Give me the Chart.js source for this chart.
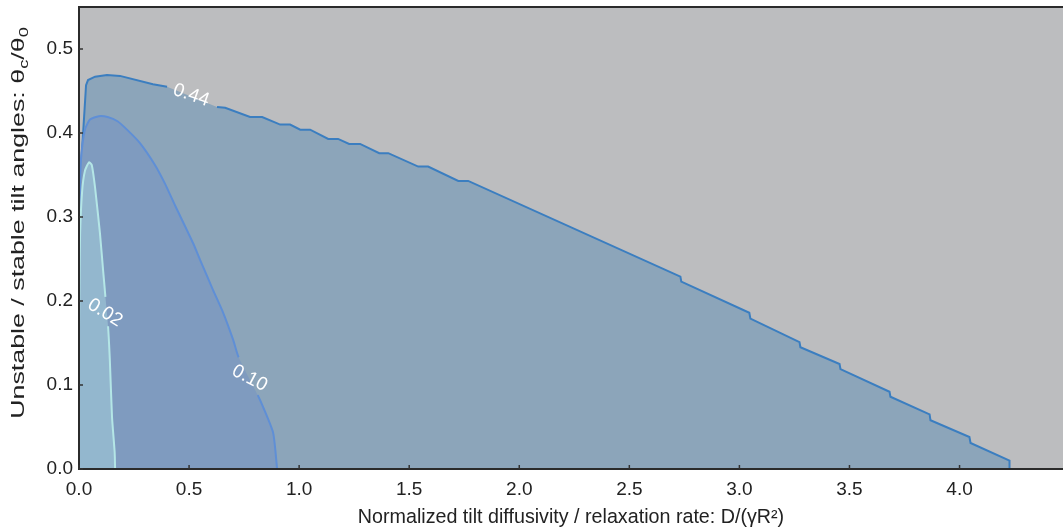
<!DOCTYPE html>
<html>
<head>
<meta charset="utf-8">
<script src="https://cdn.jsdelivr.net/npm/chart.js@4.4.1/dist/chart.umd.min.js"></script>
<style>
  html, body { margin: 0; padding: 0; background: #fff; }
  #wrap { width: 1063px; height: 529px; }
</style>
</head>
<body>
<div id="wrap"><canvas id="Grafico"></canvas></div>
<script>
// contour levels
const levels = ['0.44', '0.10', '0.02'];

// outer contour (level 0.44)
const outerX = [0, 0.014, 0.032, 0.041, 0.073, 0.127, 0.186, 0.336, 0.40, 0.627, 0.664, 0.777, 0.832, 0.914, 0.959,
  1.005, 1.05, 1.132, 1.177, 1.227, 1.277, 1.364, 1.405, 1.541, 1.586, 1.723, 1.768, 2.732, 2.736,
  3.045, 3.05, 3.273, 3.277, 3.455, 3.459, 3.682, 3.686, 3.864, 3.868, 4.045, 4.05, 4.227, 4.227];
const outerY = [0.336, 0.38, 0.457, 0.463, 0.467, 0.469, 0.468, 0.458, 0.455, 0.431, 0.430, 0.419, 0.419, 0.410, 0.410,
  0.404, 0.404, 0.393, 0.393, 0.387, 0.387, 0.376, 0.376, 0.360, 0.360, 0.343, 0.343, 0.229, 0.223,
  0.186, 0.179, 0.151, 0.145, 0.125, 0.119, 0.092, 0.086, 0.065, 0.058, 0.038, 0.031, 0.010, 0];

// middle contour (level 0.10)
const midX = [0, 0.009, 0.027, 0.05, 0.09, 0.13, 0.175, 0.218, 0.277, 0.345, 0.39, 0.436, 0.518, 0.55, 0.609,
  0.655, 0.70, 0.725, 0.812, 0.836, 0.882, 0.90];
const midY = [0.30, 0.368, 0.404, 0.416, 0.420, 0.419, 0.414, 0.404, 0.388, 0.362, 0.340, 0.314, 0.269, 0.249, 0.213,
  0.186, 0.154, 0.133, 0.088, 0.074, 0.043, 0];

// inner contour (level 0.02)
const innerX = [0, 0.002, 0.005, 0.014, 0.027, 0.045, 0.058, 0.073, 0.095, 0.11, 0.12, 0.132, 0.14, 0.15, 0.162, 0.164];
const innerY = [0.168, 0.22, 0.28, 0.33, 0.355, 0.365, 0.362, 0.335, 0.281, 0.235, 0.205, 0.17, 0.13, 0.062, 0.02, 0];

// label positions on each contour (x, y, angle) and the gap in the line under it
const labelX = [0.51, 0.775, 0.118];
const labelY = [0.445, 0.108, 0.186];
const labelAngle = [19, 28, 32];
const gapFrom = [0.40, 0.725, 0.12];
const gapTo = [0.627, 0.812, 0.132];

const xTicks = [0, 0.5, 1, 1.5, 2, 2.5, 3, 3.5, 4];
const yTicks = [0, 0.1, 0.2, 0.3, 0.4, 0.5];

function toPoints(xs, ys) {
  return xs.map((x, i) => ({ x: x, y: ys[i] }));
}

function gapSegment(k) {
  return ctx => (ctx.p0.parsed.x >= gapFrom[k] && ctx.p1.parsed.x <= gapTo[k]) ? 'transparent' : undefined;
}

// one contour = a filled area and its line on top
function contour(k, xs, ys, lineColor, fillColor, tension) {
  return [
    {
      label: levels[k],
      data: toPoints(xs, ys),
      showLine: true,
      borderColor: lineColor,
      borderWidth: 2,
      pointRadius: 0,
      tension: tension,
      fill: false,
      segment: { borderColor: gapSegment(k) }
    },
    {
      label: levels[k] + ' area',
      data: toPoints(xs, ys),
      showLine: true,
      borderWidth: 0,
      borderColor: fillColor,
      backgroundColor: fillColor,
      pointRadius: 0,
      tension: tension,
      fill: 'origin'
    }
  ];
}

const fontName = '"Liberation Sans", Arial, Helvetica, sans-serif';

// gray plot background, borders and inward ticks
const frame = {
  id: 'frame',
  beforeDatasetsDraw(chart) {
    const { ctx, chartArea: a } = chart;
    ctx.save();
    ctx.fillStyle = '#bcbdbf';
    ctx.fillRect(a.left, a.top, a.right - a.left, a.bottom - a.top);
    ctx.restore();
  },
  afterDatasetsDraw(chart) {
    const { ctx, chartArea: a, scales } = chart;
    ctx.save();
    // contour labels
    ctx.fillStyle = '#ffffff';
    ctx.font = '19px ' + fontName;
    ctx.textAlign = 'center';
    ctx.textBaseline = 'middle';
    levels.forEach((lv, k) => {
      ctx.save();
      ctx.translate(scales.x.getPixelForValue(labelX[k]), scales.y.getPixelForValue(labelY[k]));
      ctx.rotate(labelAngle[k] * Math.PI / 180);
      ctx.fillText(lv, 0, 0);
      ctx.restore();
    });
    // borders
    ctx.strokeStyle = '#2b2b2b';
    ctx.lineWidth = 2;
    ctx.beginPath();
    ctx.moveTo(a.right, a.top);
    ctx.lineTo(a.left, a.top);
    ctx.lineTo(a.left, a.bottom);
    ctx.lineTo(a.right, a.bottom);
    ctx.stroke();
    // ticks pointing inside
    ctx.lineWidth = 1.5;
    ctx.strokeStyle = '#333333';
    ctx.beginPath();
    xTicks.forEach(v => {
      const px = scales.x.getPixelForValue(v);
      ctx.moveTo(px, a.bottom);
      ctx.lineTo(px, a.bottom - 4);
    });
    yTicks.forEach(v => {
      const py = scales.y.getPixelForValue(v);
      ctx.moveTo(a.left, py);
      ctx.lineTo(a.left + 4, py);
    });
    ctx.stroke();
    ctx.restore();
  },
  afterDraw(chart) {
    // y title with subscripts
    const { ctx } = chart;
    const parts = [['Unstable / stable tilt angles: θ', 0], ['c', 1], ['/θ', 0], ['0', 1]];
    const big = '19px ' + fontName, small = '13px ' + fontName;
    ctx.save();
    ctx.fillStyle = '#222222';
    ctx.textBaseline = 'middle';
    ctx.textAlign = 'left';
    let total = 0;
    parts.forEach(p => { ctx.font = p[1] ? small : big; total += ctx.measureText(p[0]).width; });
    ctx.translate(19, 223);
    ctx.rotate(-Math.PI / 2);
    ctx.scale(1.41, 1);
    let pos = -total / 2;
    parts.forEach(p => {
      ctx.font = p[1] ? small : big;
      ctx.fillText(p[0], pos, p[1] ? 5 : 0);
      pos += ctx.measureText(p[0]).width;
    });
    ctx.restore();
  }
};

const contexto = document.getElementById('Grafico').getContext('2d');
const Grafico = new Chart(contexto, {
  type: 'scatter',
  data: {
    datasets: [
      ...contour(2, innerX, innerY, '#b4e6e6', '#93b7ce', 0.2),
      ...contour(1, midX, midY, '#5f8fd6', '#7f9bbf', 0.2),
      ...contour(0, outerX, outerY, '#3b7ec0', '#8ca5ba', 0)
    ]
  },
  options: {
    responsive: true,
    maintainAspectRatio: false,
    animation: false,
    layout: { padding: { top: 7, right: 0, left: 0, bottom: 0 } },
    plugins: {
      legend: { display: false },
      tooltip: { enabled: false }
    },
    scales: {
      x: {
        type: 'linear',
        min: 0,
        max: 4.47,
        grid: { display: false, drawTicks: false },
        border: { display: false },
        afterFit: s => { s.height = 60; s.paddingLeft = 0; s.paddingRight = 0; },
        afterBuildTicks: s => { s.ticks = xTicks.map(v => ({ value: v })); },
        ticks: {
          autoSkip: false,
          maxRotation: 0,
          padding: 9,
          color: '#222222',
          font: { family: fontName, size: 19 },
          callback: v => v.toFixed(1)
        },
        title: {
          display: true,
          text: 'Normalized tilt diffusivity / relaxation rate: D/(γR²)',
          color: '#222222',
          font: { family: fontName, size: 19.7 },
          padding: { top: 2, bottom: 0 }
        }
      },
      y: {
        type: 'linear',
        min: 0,
        max: 0.55,
        grid: { display: false, drawTicks: false },
        border: { display: false },
        afterFit: s => { s.width = 79; s.paddingTop = 0; s.paddingBottom = 0; },
        afterBuildTicks: s => { s.ticks = yTicks.map(v => ({ value: v })); },
        ticks: {
          autoSkip: false,
          padding: 6,
          color: '#222222',
          font: { family: fontName, size: 19 },
          callback: v => v.toFixed(1)
        }
      }
    }
  },
  plugins: [frame]
});
</script>
</body>
</html>
